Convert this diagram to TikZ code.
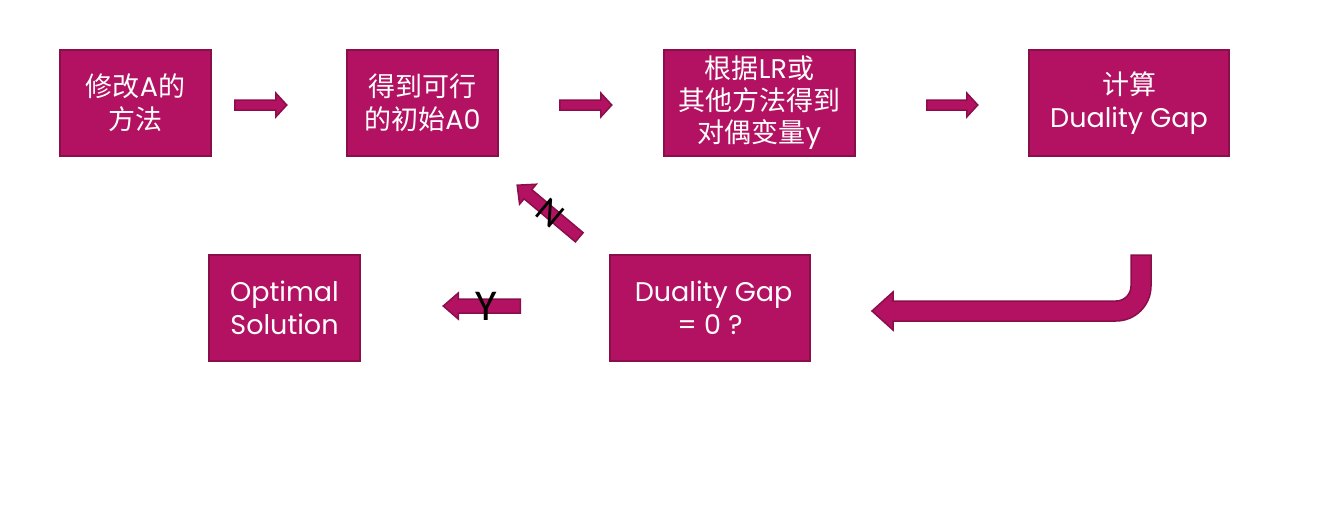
\documentclass[tikz,border=0pt]{standalone}
\usepackage{fontspec}
\setmainfont{Poppins}
\newfontfamily\cjk{Noto Sans CJK SC}
\newfontfamily\markfont{Carlito}
\usetikzlibrary{calc}
\definecolor{boxfill}{HTML}{B31262}
\definecolor{boxline}{HTML}{8A0E4A}

\tikzset{
	box/.style={draw=boxline, fill=boxfill, line width=1.5pt, text=white,
		align=center, inner sep=0pt, minimum height=106pt,
		font=\fontsize{27pt}{33pt}\selectfont},
	arrowbody/.style={draw=boxline, fill=boxfill, line width=1.5pt, line join=miter},
	% length / half body / half head / head length
	pics/fatarrow/.style args={#1/#2/#3/#4}{code={
		\draw[arrowbody] (0,-#2) -- (#1-#4,-#2) -- (#1-#4,-#3) -- (#1,0)
			-- (#1-#4,#3) -- (#1-#4,#2) -- (0,#2) -- cycle;
	}},
}

\begin{document}
\begin{tikzpicture}[x=1pt, y=-1pt]

% canvas %{{{2

	\useasboundingbox (0,0) rectangle (1325,507);

% boxes %{{{2

	\node[box, minimum width=151pt] (modify) at (135.5,103)
		{{\cjk 修改}A{\cjk 的}\\{\cjk 方法}};
	\node[box, minimum width=151pt] (init) at (422.5,103)
		{{\cjk 得到可行}\\{\cjk 的初始}A0};
	\node[box, minimum width=191pt, font=\fontsize{27pt}{32pt}\selectfont] (dual) at (759.5,103)
		{{\cjk 根据}LR{\cjk 或}\\{\cjk 其他方法得到}\\{\cjk 对偶变量}y};
	\node[box, minimum width=200pt] (gap) at (1129,103)
		{{\cjk 计算}\\Duality Gap};
	\node[box, minimum width=200pt] (check) at (710,308)
		{\ Duality Gap\\= 0 ?};
	\node[box, minimum width=151pt] (optimal) at (284.5,308)
		{Optimal\\Solution};

% straight arrows %{{{2

	\pic at ($(modify.east)+(23,2)$) {fatarrow=52/5/12/11};
	\pic at ($(init.east)+(61,2)$) {fatarrow=52/5/12/11};
	\pic at ($(dual.east)+(71,2)$) {fatarrow=51/5/12/11};

	\pic[rotate=180] at ($(check.west)+(-89,-2)$) {fatarrow=77/7/13/15};
	\pic[rotate=140] at ($(check.north west)+(-30,-17)$) {fatarrow=81/6/13/14};

% bent arrow %{{{2

	\draw[arrowbody] (1131,255) -- (1151,255) -- (1151,286)
		arc[start angle=0, end angle=90, radius=35] -- (893,321)
		-- (893,330) -- (872,311) -- (893,292) -- (893,301) -- (1116,301)
		arc[start angle=90, end angle=0, radius=15] -- cycle;

% arrow labels %{{{2

	\node[font=\markfont\fontsize{44pt}{44pt}\selectfont, inner sep=0pt] (yes) at (486,306) {Y};
	\node[font=\markfont\fontsize{37pt}{37pt}\selectfont, inner sep=0pt, rotate=-40] (no) at (550,213) {N};

% closing %{{{2

\end{tikzpicture}
\end{document}
